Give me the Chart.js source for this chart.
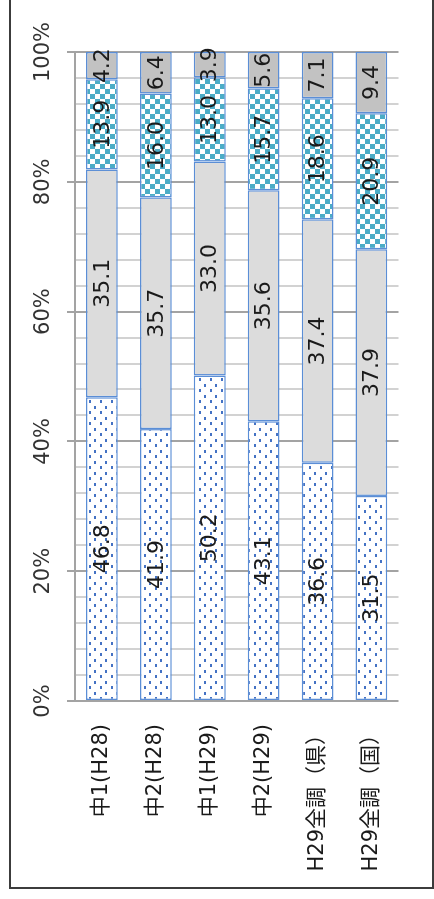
<!DOCTYPE html>
<html>
<head>
<meta charset="utf-8">
<script src="https://cdn.jsdelivr.net/npm/chart.js@4"></script>
<style>
  html, body { margin: 0; padding: 0; background: #fff; overflow: hidden; }
  body { width: 434px; height: 899px; position: relative; }
  #frame {
    position: absolute; left: 9px; top: -20px; width: 425px; height: 909px;
    box-sizing: border-box; border: 2px solid #3c3c3c;
  }
  #wrap {
    position: absolute; left: 0; top: 899px; width: 899px; height: 434px;
    transform-origin: 0 0; transform: rotate(-90deg);
  }
</style>
</head>
<body>
<div id="frame"></div>
<div id="wrap"><canvas id="chart" width="899" height="434"></canvas></div>
<script>
const categories = ["中1(H28)", "中2(H28)", "中1(H29)", "中2(H29)", "H29全調（県）", "H29全調（国）"];
const dotted = [46.8, 41.9, 50.2, 43.1, 36.6, 31.5];
const plain = [35.1, 35.7, 33.0, 35.6, 37.4, 37.9];
const checker = [13.9, 16.0, 13.0, 15.7, 18.6, 20.9];
const rest = [4.2, 6.4, 3.9, 5.6, 7.1, 9.4];

const seriesList = [dotted, plain, checker, rest];
const totals = categories.map((c, i) => seriesList.reduce((s, arr) => s + arr[i], 0));
const FONT = '"DejaVu Sans", "Noto Sans CJK JP", sans-serif';

function dotPattern() {
    let c = document.createElement("canvas");
    c.width = 11; c.height = 11;
    let g = c.getContext("2d");
    g.fillStyle = "#fff";
    g.fillRect(0, 0, 11, 11);
    g.fillStyle = "#4472c4";
    g.fillRect(1, 1, 3, 2);
    g.fillRect(6, 6, 3, 2);
    return g.createPattern(c, "repeat");
}

function checkPattern() {
    let c = document.createElement("canvas");
    c.width = 10; c.height = 10;
    let g = c.getContext("2d");
    g.fillStyle = "#fff";
    g.fillRect(0, 0, 10, 10);
    g.fillStyle = "#4bacc6";
    g.fillRect(0, 0, 5, 5);
    g.fillRect(5, 5, 5, 5);
    return g.createPattern(c, "repeat");
}

const fills = [dotPattern(), "#dcdcdc", checkPattern(), "#c2c2c2"];

// segment labels, drawn in the middle of each piece
const segLabels = {
    id: "segLabels",
    afterDatasetsDraw(chart) {
        let ctx = chart.ctx;
        ctx.save();
        ctx.font = "22px " + FONT;
        ctx.fillStyle = "#1a1a1a";
        ctx.textAlign = "center";
        ctx.textBaseline = "middle";
        chart.data.datasets.forEach((ds, i) => {
            chart.getDatasetMeta(i).data.forEach((bar, j) => {
                let p = bar.getProps(["x", "y", "base"], true);
                ctx.fillText(ds.raw[j].toFixed(1), (p.x + p.base) / 2, p.y + 1);
            });
        });
        ctx.restore();
    }
};

new Chart(document.getElementById("chart").getContext("2d"), {
    type: "bar",
    data: {
        labels: categories,
        datasets: seriesList.map((arr, k) => ({
            raw: arr,
            data: arr.map((v, i) => v / totals[i] * 100),
            backgroundColor: fills[k],
            borderColor: "#5b8ed6",
            borderWidth: 1.5,
            borderSkipped: false,
            barPercentage: 0.59,
            categoryPercentage: 1
        }))
    },
    options: {
        indexAxis: "y",
        responsive: false,
        animation: false,
        layout: { padding: { top: 0, left: 0, right: 52, bottom: 29 } },
        plugins: { legend: { display: false }, tooltip: { enabled: false } },
        scales: {
            x: {
                position: "top",
                stacked: true,
                min: 0,
                max: 100,
                ticks: {
                    stepSize: 4,
                    autoSkip: false,
                    maxRotation: 0,
                    padding: 11,
                    color: "#333",
                    font: { family: FONT, size: 21 },
                    callback: v => (v % 20 === 0 ? v + "%" : "")
                },
                grid: {
                    lineWidth: 2,
                    tickLength: 8,
                    color: c => (c.tick && c.tick.value % 20 === 0 ? "#a3a3a3" : "#d2d2d2"),
                    tickColor: c => (c.tick && c.tick.value % 20 === 0 ? "#a3a3a3" : "rgba(0,0,0,0)")
                },
                border: { display: true, color: "#a3a3a3", width: 2 },
                afterFit: s => { s.height = 75; }
            },
            y: {
                stacked: true,
                ticks: {
                    padding: 23,
                    color: "#1a1a1a",
                    font: { family: FONT, size: 21 }
                },
                grid: { display: false, drawTicks: false },
                border: { display: false },
                afterFit: s => { s.width = 198; }
            }
        }
    },
    plugins: [segLabels]
});
</script>
</body>
</html>
